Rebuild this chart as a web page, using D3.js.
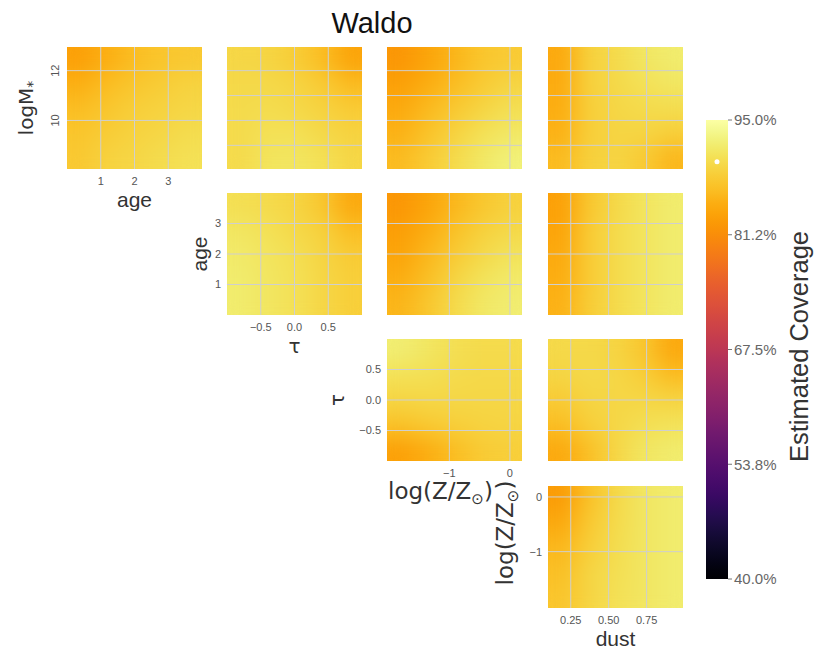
<!DOCTYPE html>
<html>
<head>
<meta charset="utf-8">
<script src="https://cdn.jsdelivr.net/npm/d3@7"></script>
<style>
  html, body { margin: 0; padding: 0; background: #ffffff; }
  svg { display: block; font-family: "Liberation Sans", Arial, Helvetica, sans-serif; }
</style>
</head>
<body>
<svg id="chart" width="824" height="651"></svg>
<script>
// ---- parameters of the corner plot -------------------------------------
const paramLabels = ["logM", "age", "τ", "log(Z/Z", "dust"];
const paramIsMath = [true, false, true, true, false];
const paramDomains = [[8.05, 12.95], [0, 4], [-1, 1], [-2.03, 0.2], [0.1, 0.99]];
// grid-line positions of the off-diagonal panels
const paramGridTicks = [[9, 10, 11, 12], [1, 2, 3], [-0.5, 0, 0.5], [-1, 0], [0.25, 0.5, 0.75]];
// labelled ticks on the diagonal panels
const paramLabelTicks = [[10, 12], [1, 2, 3], [-0.5, 0, 0.5], [-1, 0], [0.25, 0.5, 0.75]];
const paramFormats = ["d", "d", ".1f", "d", ".2f"];

// ---- colour bar ------------------------------------------------------------
const coverageRange = [40, 95];
const cbTickValues = [40, 53.75, 67.5, 81.25, 95];
const cbTickLabels = ["40.0%", "53.8%", "67.5%", "81.2%", "95.0%"];
const nominalCoverage = 90;

// ---- estimated coverage (%) on a 5x5 grid per panel ---------------------
// rows run from the top of the panel (high y) to the bottom,
// columns from the left (low x) to the right.
const covLogMAge = [
  [83.5, 85.3, 86.8, 87.6, 88.0],
  [85.3, 86.8, 87.8, 88.5, 89.0],
  [86.8, 87.8, 88.6, 89.1, 89.6],
  [87.6, 88.5, 89.1, 89.6, 90.1],
  [88.0, 89.0, 89.6, 90.1, 90.6]
];
const covLogMTau = [
  [89.5, 89.3, 88.5, 86.8, 84.0],
  [89.8, 89.7, 89.2, 88.3, 86.5],
  [90.0, 90.1, 89.8, 89.1, 88.2],
  [90.0, 90.6, 90.5, 89.8, 89.0],
  [90.0, 91.0, 91.2, 90.7, 89.6]
];
const covLogMLogZ = [
  [82.5, 84.0, 85.8, 87.5, 88.3],
  [83.5, 85.0, 86.8, 88.3, 89.3],
  [84.5, 86.2, 88.0, 89.3, 90.3],
  [85.5, 87.3, 89.0, 90.5, 91.5],
  [86.5, 88.2, 90.0, 91.5, 92.5]
];
const covLogMDust = [
  [84.5, 88.8, 90.0, 91.2, 91.8],
  [84.8, 88.8, 89.8, 90.5, 91.2],
  [85.0, 88.6, 89.6, 89.9, 90.2],
  [85.5, 88.6, 89.3, 89.3, 88.7],
  [86.5, 88.8, 89.3, 88.3, 86.0]
];
const covAgeTau = [
  [90.3, 90.0, 89.2, 87.7, 84.5],
  [91.2, 90.5, 89.8, 88.8, 86.8],
  [91.6, 91.0, 90.3, 89.3, 88.2],
  [91.8, 91.2, 90.5, 89.6, 88.7],
  [91.8, 91.2, 90.5, 89.6, 88.7]
];
const covAgeLogZ = [
  [82.5, 84.0, 86.0, 87.8, 88.8],
  [83.2, 85.0, 87.2, 88.8, 89.8],
  [84.0, 86.0, 88.2, 89.8, 90.8],
  [85.0, 87.0, 89.2, 90.8, 91.6],
  [85.8, 87.8, 90.0, 91.4, 92.2]
];
const covAgeDust = [
  [83.5, 87.8, 89.8, 91.1, 91.8],
  [84.0, 88.2, 90.0, 91.1, 91.8],
  [84.5, 88.2, 90.0, 91.1, 91.8],
  [85.0, 88.2, 90.0, 91.1, 91.8],
  [85.5, 88.4, 90.0, 91.1, 91.8]
];
const covTauLogZ = [
  [92.0, 91.2, 90.3, 90.0, 90.0],
  [90.7, 90.3, 90.0, 89.8, 89.8],
  [89.3, 89.5, 89.5, 89.5, 89.5],
  [87.2, 88.0, 88.6, 89.0, 89.2],
  [83.5, 85.0, 86.8, 88.2, 88.7]
];
const covTauDust = [
  [89.8, 89.8, 89.3, 87.7, 84.5],
  [89.3, 89.8, 89.6, 88.6, 86.8],
  [88.3, 89.3, 89.6, 89.6, 89.3],
  [86.7, 88.6, 89.6, 90.4, 90.8],
  [84.5, 87.0, 89.6, 91.2, 91.8]
];
const covLogZDust = [
  [83.0, 87.2, 89.8, 91.2, 91.8],
  [84.5, 88.0, 90.0, 91.2, 91.8],
  [86.0, 88.7, 90.2, 91.2, 91.8],
  [87.0, 89.2, 90.4, 91.2, 91.8],
  [87.5, 89.4, 90.5, 91.2, 91.8]
];

// panel list: [y parameter, x parameter, coverage grid]
const panels = [
  [0, 1, covLogMAge], [0, 2, covLogMTau], [0, 3, covLogMLogZ], [0, 4, covLogMDust],
  [1, 2, covAgeTau], [1, 3, covAgeLogZ], [1, 4, covAgeDust],
  [2, 3, covTauLogZ], [2, 4, covTauDust],
  [3, 4, covLogZDust]
];

// ---- layout ---------------------------------------------------------------
const colLeft = [67, 227, 387, 548];
const rowTop = [47, 193, 339, 486];
const panelW = 135, panelH = 122;
const yLabelOffset = [41, 27, 50, 43];

const svg = d3.select("#chart");
const defs = svg.append("defs");
const color = d3.scaleSequential(d3.interpolateInferno).domain(coverageRange);

// smoothing of the coverage fields: a Gaussian kernel, renormalised at the edges
const smooth = defs.append("filter").attr("id", "smooth")
  .attr("x", "-10%").attr("y", "-10%").attr("width", "120%").attr("height", "120%")
  .attr("color-interpolation-filters", "sRGB");
smooth.append("feGaussianBlur").attr("stdDeviation", 7);
smooth.append("feComponentTransfer")
  .append("feFuncA").attr("type", "discrete").attr("tableValues", "1");

function addLabel(sel, idx) {
  // writes a parameter name, with the subscript where the symbol has one
  if (paramIsMath[idx]) sel.attr("font-family", "'DejaVu Sans', sans-serif").attr("font-size", 20);
  sel.append("tspan").text(paramLabels[idx]);
  if (idx === 0) {
    sel.append("tspan").attr("font-size", 14).attr("dy", 4).text("*");
  } else if (idx === 3) {
    sel.attr("font-size", 23);
    sel.append("tspan").attr("font-size", 15).attr("dy", 5).text("⊙");
    sel.append("tspan").attr("dy", -5).text(")");
  }
}

panels.forEach(([yi, xi, grid], k) => {
  const row = yi, col = xi - 1;
  const x0 = colLeft[col], y0 = rowTop[row];
  const x = d3.scaleLinear().domain(paramDomains[xi]).range([x0, x0 + panelW]);
  const y = d3.scaleLinear().domain(paramDomains[yi]).range([y0 + panelH, y0]);
  const g = svg.append("g");

  defs.append("clipPath").attr("id", `clip${k}`)
    .append("rect").attr("x", x0).attr("y", y0).attr("width", panelW).attr("height", panelH);

  // coverage field: one pixel per grid value, smoothed when stretched
  const nr = grid.length, nc = grid[0].length;
  const canvas = document.createElement("canvas");
  canvas.width = nc; canvas.height = nr;
  const ctx = canvas.getContext("2d");
  grid.forEach((rowVals, i) => rowVals.forEach((v, j) => {
    ctx.fillStyle = color(v);
    ctx.fillRect(j, i, 1, 1);
  }));
  const [xa, xb] = paramDomains[xi], [ya, yb] = paramDomains[yi];
  g.append("g").attr("clip-path", `url(#clip${k})`)
    .append("image")
    .attr("href", canvas.toDataURL())
    .attr("x", x(xa)).attr("y", y(yb))
    .attr("width", x(xb) - x(xa)).attr("height", y(ya) - y(yb))
    .attr("preserveAspectRatio", "none")
    .attr("filter", "url(#smooth)");

  const diag = (xi === yi + 1);
  const xTicks = paramGridTicks[xi];
  const yTicks = diag ? paramLabelTicks[yi] : paramGridTicks[yi];

  // grid lines over the field
  g.selectAll("line.vx").data(xTicks).join("line")
    .attr("x1", d => x(d)).attr("x2", d => x(d))
    .attr("y1", y0).attr("y2", y0 + panelH)
    .attr("stroke", "#cfcfcf").attr("stroke-width", 1);
  g.selectAll("line.hy").data(yTicks).join("line")
    .attr("y1", d => y(d)).attr("y2", d => y(d))
    .attr("x1", x0).attr("x2", x0 + panelW)
    .attr("stroke", "#cfcfcf").attr("stroke-width", 1);

  if (!diag) return;

  // tick labels and axis titles on the diagonal panels
  const fx = d3.format(paramFormats[xi]), fy = d3.format(paramFormats[yi]);
  g.selectAll("text.xt").data(paramLabelTicks[xi]).join("text")
    .attr("x", d => x(d)).attr("y", y0 + panelH + 16)
    .attr("text-anchor", "middle").attr("font-size", 11).attr("fill", "#555")
    .text(d => fx(d));
  if (yi === 0) {
    g.selectAll("text.yt").data(paramLabelTicks[yi]).join("text")
      .attr("transform", d => `translate(${x0 - 8},${y(d)}) rotate(-90)`)
      .attr("text-anchor", "middle").attr("font-size", 11).attr("fill", "#555")
      .text(d => fy(d));
  } else {
    g.selectAll("text.yt").data(paramLabelTicks[yi]).join("text")
      .attr("x", x0 - 6).attr("y", d => y(d)).attr("dy", "0.35em")
      .attr("text-anchor", "end").attr("font-size", 11).attr("fill", "#555")
      .text(d => fy(d));
  }

  // the metallicity label carries trailing space after its subscript
  const shift = xi === 3 ? 14 : 0;
  const xl = g.append("text")
    .attr("x", x0 + panelW / 2 - shift).attr("y", y0 + panelH + 38)
    .attr("text-anchor", "middle").attr("font-size", 21).attr("fill", "#333");
  addLabel(xl, xi);

  const yshift = yi === 3 ? 14 : 0;
  const yl = g.append("text")
    .attr("transform", `translate(${x0 - yLabelOffset[row]},${y0 + panelH / 2 - yshift}) rotate(-90)`)
    .attr("text-anchor", "middle").attr("dy", "0.35em")
    .attr("font-size", 21).attr("fill", "#333");
  addLabel(yl, yi);
});

// ---- title ------------------------------------------------------------------
svg.append("text")
  .attr("x", 372).attr("y", 33)
  .attr("text-anchor", "middle").attr("font-size", 29).attr("fill", "#111")
  .text("Waldo");

// ---- colour bar -------------------------------------------------------------
const cbX = 706, cbW = 22, cbTop = 120, cbBottom = 579;
const cbScale = d3.scaleLinear().domain(coverageRange).range([cbBottom, cbTop]);
const grad = defs.append("linearGradient")
  .attr("id", "cbGrad").attr("x1", 0).attr("y1", 1).attr("x2", 0).attr("y2", 0);
d3.range(0, 1.0001, 0.02).forEach(t => {
  grad.append("stop").attr("offset", t)
    .attr("stop-color", color(coverageRange[0] + t * (coverageRange[1] - coverageRange[0])));
});
svg.append("rect")
  .attr("x", cbX).attr("y", cbScale(coverageRange[1]))
  .attr("width", cbW).attr("height", cbScale(coverageRange[0]) - cbScale(coverageRange[1]))
  .attr("fill", "url(#cbGrad)");

const cbTicks = svg.append("g");
cbTicks.selectAll("line").data(cbTickValues).join("line")
  .attr("x1", cbX + cbW).attr("x2", cbX + cbW + 4)
  .attr("y1", d => cbScale(d)).attr("y2", d => cbScale(d))
  .attr("stroke", "#777").attr("stroke-width", 1);
cbTicks.selectAll("text").data(cbTickValues).join("text")
  .attr("x", cbX + cbW + 6).attr("y", d => cbScale(d)).attr("dy", "0.35em")
  .attr("font-size", 15).attr("fill", "#666")
  .text((d, i) => cbTickLabels[i]);

// marker for the nominal coverage level
svg.append("circle")
  .attr("cx", cbX + cbW / 2).attr("cy", cbScale(nominalCoverage)).attr("r", 2.5)
  .attr("fill", "#ffffff");

svg.append("text")
  .attr("transform", `translate(799,${(cbTop + cbBottom) / 2 - 3}) rotate(-90)`)
  .attr("text-anchor", "middle").attr("dy", "0.35em")
  .attr("font-size", 25.5).attr("fill", "#333")
  .text("Estimated Coverage");
</script>
</body>
</html>
